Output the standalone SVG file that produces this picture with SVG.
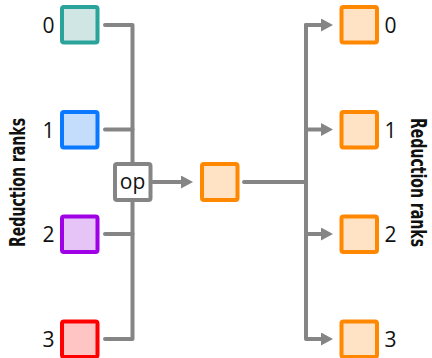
<svg xmlns="http://www.w3.org/2000/svg" width="432" height="358" viewBox="0 0 432 358">
<style>
.sq{stroke-width:4}
.ln{fill:none;stroke:#858585;stroke-width:4;stroke-linecap:round;stroke-linejoin:round}
.num{font-family:"Open Sans","Noto Sans",sans-serif;font-size:21px;fill:#111}
.lab{font-family:"DejaVu Sans Condensed","DejaVu Sans",sans-serif;font-weight:bold;font-size:22px;fill:#111}
</style>
<defs>
<marker id="ah" viewBox="0 0 12 13" refX="1" refY="6.5" markerWidth="12" markerHeight="13" orient="auto" markerUnits="userSpaceOnUse">
<path d="M0,0 L12,6.5 L0,13 z" fill="#858585"/>
</marker>
</defs>
<g id="connectors">
<path class="ln" d="M105,25 H132.5 V339 H105"/>
<path class="ln" d="M105,129.5 H132.5"/>
<path class="ln" d="M105,234 H132.5"/>
<path class="ln" d="M153,182 H182" marker-end="url(#ah)"/>
<path class="ln" d="M244,182 H306"/>
<path class="ln" d="M322,25 H306 V339 H322" marker-end="url(#ah)"/>
<path class="ln" d="M306,25 H322" marker-end="url(#ah)"/>
<path class="ln" d="M306,129.5 H322" marker-end="url(#ah)"/>
<path class="ln" d="M306,234 H322" marker-end="url(#ah)"/>
</g>
<g id="in0"><rect class="sq" x="62" y="7" width="35.5" height="35.5" rx="2" fill="#cfe6e5" stroke="#2aa39a"/><text class="num" x="48.5" y="33" text-anchor="middle">0</text></g>
<g id="in1"><rect class="sq" x="62" y="112" width="35.5" height="35.5" rx="2" fill="#c4ddfc" stroke="#0a78ff"/><text class="num" x="48.5" y="137.5" text-anchor="middle">1</text></g>
<g id="in2"><rect class="sq" x="62" y="216.5" width="35.5" height="35.5" rx="2" fill="#e6c4f7" stroke="#a000e6"/><text class="num" x="48.5" y="242" text-anchor="middle">2</text></g>
<g id="in3"><rect class="sq" x="62" y="321.5" width="35.5" height="35.5" rx="2" fill="#ffc4c4" stroke="#ff0000"/><text class="num" x="48.5" y="347" text-anchor="middle">3</text></g>
<g id="op"><rect x="115" y="164" width="35.5" height="36" rx="2" fill="#fff" stroke="#858585" stroke-width="4"/><text class="num" x="132.5" y="189" text-anchor="middle" font-size="19">op</text></g>
<g id="mid"><rect class="sq" x="202" y="164" width="35.5" height="36" rx="2" fill="#ffe3c4" stroke="#ff8800"/></g>
<g id="out0"><rect class="sq" x="341.5" y="7" width="35.5" height="35.5" rx="2" fill="#ffe3c4" stroke="#ff8800"/><text class="num" x="384.5" y="33">0</text></g>
<g id="out1"><rect class="sq" x="341.5" y="112" width="35.5" height="35.5" rx="2" fill="#ffe3c4" stroke="#ff8800"/><text class="num" x="384.5" y="137.5">1</text></g>
<g id="out2"><rect class="sq" x="341.5" y="216.5" width="35.5" height="35.5" rx="2" fill="#ffe3c4" stroke="#ff8800"/><text class="num" x="384.5" y="242">2</text></g>
<g id="out3"><rect class="sq" x="341.5" y="321.5" width="35.5" height="35.5" rx="2" fill="#ffe3c4" stroke="#ff8800"/><text class="num" x="384.5" y="347">3</text></g>
<g id="label-left"><text class="lab" transform="translate(25,182.5) rotate(-90)" text-anchor="middle" textLength="129" lengthAdjust="spacingAndGlyphs">Reduction ranks</text></g>
<g id="label-right"><text class="lab" transform="translate(410.5,182.5) rotate(90)" text-anchor="middle" textLength="129" lengthAdjust="spacingAndGlyphs">Reduction ranks</text></g>
</svg>
